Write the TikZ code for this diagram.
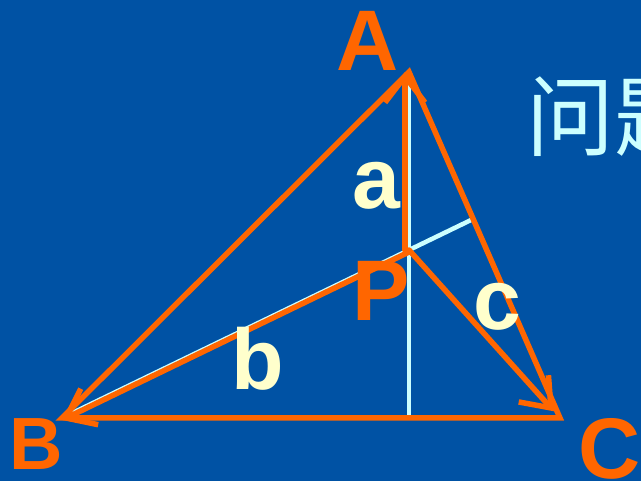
\documentclass[tikz,border=0pt]{standalone}
\usepackage{fontspec}
\setmainfont{Liberation Sans}
\newfontfamily\cjk{Noto Sans CJK SC}
\usetikzlibrary{arrows.meta,calc}
\definecolor{bgblue}{RGB}{0,82,164}
\definecolor{vecorange}{RGB}{255,102,0}
\definecolor{paleyellow}{RGB}{255,255,204}
\definecolor{palecyan}{RGB}{204,255,255}
\tikzset{
  side/.style={draw=vecorange, line width=5.5pt, line join=miter},
  vec/.style={draw=vecorange, line width=5.5pt, line cap=round,
              -{Straight Barb[length=26pt,width=40pt]}},
  aux/.style={draw=palecyan, line width=4.5pt},
  vtx/.style={text=vecorange, font=\fontsize{86}{86}\selectfont\bfseries, inner sep=0pt},
  lbl/.style={text=paleyellow, font=\fontsize{86}{86}\selectfont\bfseries, inner sep=0pt},
}

\begin{document}
\begin{tikzpicture}[x=1pt,y=-1pt]
    \fill[bgblue] (0,0) rectangle (641,481);
    \useasboundingbox (0,0) rectangle (641,481);
    \clip (0,0) rectangle (641,481);
    \coordinate (A) at (409,72);
    \coordinate (B) at (62,418);
    \coordinate (C) at (560,418);
    \coordinate (P) at (409,250);
    \coordinate (H) at (A |- B);
    \coordinate (F) at (intersection of B--P and A--C);
    \coordinate (Ct) at ($(P)!0.96!(C)$);
    % auxiliary lines
    \draw[aux] (A) -- (H);
    \draw[aux] (B) -- (F);
    % triangle and vectors
    \draw[side] (A) -- (B) -- (C) -- cycle;
    \draw[vec] ([xshift=-4pt]P) -- ([xshift=-4pt]A);
    \draw[vec] ([yshift=-2pt]P) -- ([yshift=-2pt]B);
    \draw[vec] (P) -- (Ct);
    \node[vtx] (lA) at (368,41)  {A};
    \node[vtx,font=\fontsize{74}{74}\selectfont\bfseries] (lB) at (36,444) {B};
    \node[vtx] (lC) at (610,449) {C};
    \node[vtx] (lP) at (381,291) {P};
    \node[lbl] (la) at (376,186) {a};
    \node[lbl] (lb) at (258,359) {b};
    \node[lbl] (lc) at (497,307) {c};
    \node[anchor=west, text=palecyan, inner sep=0pt,
          font=\cjk\fontsize{88}{88}\selectfont] (title) at (526,117) {问题};
  \end{tikzpicture}
\end{document}
